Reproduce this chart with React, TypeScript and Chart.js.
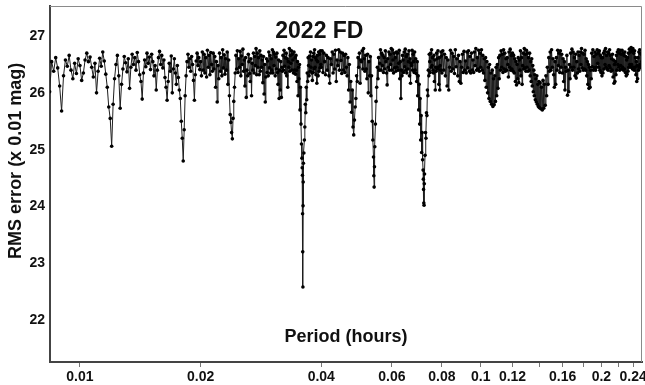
import React, { useEffect, useRef } from "react";
import { Chart, registerables } from "chart.js";
Chart.register(...registerables);

const chartTitle = "2022 FD";
const xAxisTitle = "Period (hours)";
const yAxisTitle = "RMS error (x 0.01 mag)";
const xTickValues = [0.01, 0.02, 0.04, 0.06, 0.08, 0.1, 0.12, 0.14, 0.16, 0.18, 0.2, 0.22, 0.24];
const xTickLabels = ["0.01", "0.02", "0.04", "0.06", "0.08", "0.1", "0.12", "", "0.16", "", "0.2", "", "0.24"];
const yTickValues = [22, 23, 24, 25, 26, 27];
const xMin = 0.00842;
const xMax = 0.2525;
const yMin = 21.26;
const yMax = 27.53;

// [period (hours), RMS error (x 0.01 mag)]
const segmentA: [number, number][] = [
  [0.0084, 26.02], [0.0085, 26.55], [0.0086, 26.38], [0.0087, 26.62], [0.0088, 26.44], [0.0089, 26.12],
  [0.0090, 25.68], [0.0091, 26.30], [0.0092, 26.58], [0.0093, 26.47], [0.0094, 26.66], [0.0095, 26.40],
  [0.0096, 26.25], [0.0097, 26.52], [0.0098, 26.34], [0.0099, 26.60], [0.0100, 26.48], [0.0101, 26.22],
  [0.0102, 26.35], [0.0103, 26.58], [0.0104, 26.70], [0.0105, 26.55], [0.0106, 26.63], [0.0107, 26.45],
  [0.0108, 26.28], [0.0109, 26.52], [0.0110, 26.00], [0.0111, 26.38], [0.0112, 26.61], [0.0113, 26.47],
  [0.0114, 26.72], [0.0115, 26.56], [0.0116, 26.33], [0.0117, 26.10], [0.0118, 25.75], [0.0119, 25.55],
  [0.0120, 25.06], [0.0121, 25.80], [0.0122, 26.25], [0.0123, 26.50], [0.0124, 26.66], [0.0125, 26.30],
  [0.0126, 25.73], [0.0127, 26.15], [0.0128, 26.42], [0.0129, 26.64], [0.0130, 26.53], [0.0131, 26.37],
  [0.0132, 26.60], [0.0133, 26.08], [0.0134, 26.45], [0.0135, 26.68], [0.0136, 26.50], [0.0137, 26.62],
  [0.0138, 26.40], [0.0139, 26.71], [0.0140, 26.55], [0.0141, 26.32], [0.0142, 26.20], [0.0143, 25.89],
  [0.0144, 26.35], [0.0145, 26.58], [0.0146, 26.46], [0.0147, 26.70], [0.0148, 26.52], [0.0149, 26.63],
  [0.0150, 26.41], [0.0151, 26.68], [0.0152, 26.55], [0.0153, 26.30], [0.0154, 26.48], [0.0155, 26.05],
  [0.0156, 26.40], [0.0157, 26.62], [0.0158, 26.73], [0.0159, 26.50], [0.0160, 26.66], [0.0161, 26.44],
  [0.0162, 26.58], [0.0163, 26.27], [0.0164, 26.10], [0.0165, 25.87], [0.0166, 26.20], [0.0167, 26.52],
  [0.0168, 26.38], [0.0169, 26.65], [0.0170, 26.00], [0.0171, 26.42], [0.0172, 26.60], [0.0173, 26.35],
  [0.0174, 26.15], [0.0175, 26.48], [0.0176, 26.27], [0.0177, 26.05], [0.0178, 25.90], [0.0179, 25.50],
  [0.0180, 25.20], [0.0181, 24.80], [0.0182, 25.35], [0.0183, 25.95], [0.0184, 26.30], [0.0185, 26.55],
  [0.0186, 26.68], [0.0187, 26.45], [0.0188, 26.60], [0.0189, 26.38], [0.0190, 26.64], [0.0191, 26.50],
  [0.0192, 26.22], [0.0193, 25.87], [0.0194, 26.32], [0.0195, 26.56], [0.0196, 26.70], [0.0197, 26.48],
  [0.0198, 26.62], [0.0199, 26.41],
];

const segmentB: [number, number][] = [
  [0.0200, 26.55], [0.0201, 26.30], [0.0202, 26.72], [0.0203, 26.40], [0.0204, 26.68], [0.0205, 26.35], [0.0206, 26.62], [0.0207, 26.28], [0.0208, 26.75], [0.0209, 26.45],
  [0.0210, 26.66], [0.0211, 26.32], [0.0212, 26.71], [0.0213, 26.50], [0.0214, 26.38], [0.0215, 26.70], [0.0216, 26.42], [0.0217, 26.64], [0.0218, 26.10], [0.0219, 26.55],
  [0.0220, 25.84], [0.0221, 26.48], [0.0222, 26.25], [0.0223, 26.70], [0.0224, 26.38], [0.0225, 26.62], [0.0226, 26.30], [0.0227, 26.76], [0.0228, 26.44], [0.0229, 26.67],
  [0.0230, 26.33], [0.0231, 26.60], [0.0232, 26.40], [0.0233, 26.72], [0.0234, 26.15], [0.0235, 26.58], [0.0236, 25.95], [0.0237, 25.62], [0.0238, 25.48], [0.0239, 25.30],
  [0.0240, 25.19], [0.0241, 25.55], [0.0242, 25.85], [0.0243, 26.10], [0.0244, 26.35], [0.0245, 26.66], [0.0246, 26.42], [0.0247, 26.74], [0.0248, 26.36], [0.0249, 26.60],
  [0.0250, 26.45], [0.0251, 26.73], [0.0252, 26.30], [0.0253, 26.65], [0.0254, 26.50], [0.0255, 26.77], [0.0256, 26.38], [0.0257, 26.58], [0.0258, 26.12], [0.0259, 26.62],
  [0.0260, 25.92], [0.0261, 26.40], [0.0262, 26.30], [0.0263, 26.68], [0.0264, 26.55], [0.0265, 26.34], [0.0266, 26.20], [0.0267, 26.60], [0.0268, 25.95], [0.0269, 26.52],
  [0.0270, 26.40], [0.0271, 26.70], [0.0272, 26.35], [0.0273, 26.64], [0.0274, 26.48], [0.0275, 26.78], [0.0276, 26.32], [0.0277, 26.70], [0.0278, 26.45], [0.0279, 26.62],
  [0.0280, 26.32], [0.0281, 26.74], [0.0282, 26.38], [0.0283, 26.66], [0.0284, 26.45], [0.0285, 26.58], [0.0286, 26.18], [0.0287, 26.64], [0.0288, 25.98], [0.0289, 26.50],
  [0.0290, 25.84], [0.0291, 26.28], [0.0292, 26.60], [0.0293, 26.36], [0.0294, 26.56], [0.0295, 26.30], [0.0296, 26.72], [0.0297, 26.44], [0.0298, 26.66], [0.0299, 26.35],
  [0.0300, 26.60], [0.0301, 26.40], [0.0302, 26.76], [0.0303, 26.35], [0.0304, 26.72], [0.0305, 26.48], [0.0306, 26.68], [0.0307, 26.30], [0.0308, 26.63], [0.0309, 26.42],
  [0.0310, 26.70], [0.0311, 26.36], [0.0312, 26.15], [0.0313, 26.58], [0.0314, 25.90], [0.0315, 26.40], [0.0316, 26.05], [0.0317, 26.55], [0.0318, 25.92], [0.0319, 26.45],
  [0.0320, 26.38], [0.0321, 26.66], [0.0322, 26.40], [0.0323, 26.75], [0.0324, 26.47], [0.0325, 26.62], [0.0326, 26.35], [0.0327, 26.70], [0.0328, 26.30], [0.0329, 26.60],
  [0.0330, 26.10], [0.0331, 26.55], [0.0332, 26.45], [0.0333, 26.78], [0.0334, 26.38], [0.0335, 26.66], [0.0336, 26.52], [0.0337, 26.74], [0.0338, 26.40], [0.0339, 26.68],
  [0.0340, 26.58], [0.0341, 26.35], [0.0342, 26.72], [0.0343, 26.40], [0.0344, 26.62], [0.0345, 26.33], [0.0346, 26.66], [0.0347, 26.40], [0.0348, 26.20], [0.0349, 26.55],
  [0.0350, 25.95], [0.0351, 26.45], [0.0352, 26.25], [0.0353, 26.50], [0.0354, 25.70], [0.0355, 26.10], [0.0356, 25.45], [0.0357, 25.10], [0.0358, 24.85], [0.03585, 24.68],
  [0.0359, 24.55], [0.03593, 23.87], [0.03596, 23.20], [0.0360, 22.58], [0.03603, 24.01], [0.03606, 24.43],
  [0.0361, 24.76], [0.0362, 24.94], [0.0363, 25.17], [0.0364, 25.40], [0.0365, 25.80], [0.0366, 25.65], [0.0367, 26.10], [0.0368, 25.88], [0.0369, 26.35],
  [0.0370, 26.20], [0.0371, 26.62], [0.0372, 26.48], [0.0373, 26.30], [0.0374, 26.65], [0.0375, 26.38], [0.0376, 26.72], [0.0377, 26.45], [0.0378, 26.58], [0.0379, 26.35],
  [0.0380, 26.22], [0.0381, 26.64], [0.0382, 26.36], [0.0383, 26.70], [0.0384, 26.42], [0.0385, 26.76], [0.0386, 26.45], [0.0387, 26.62], [0.0388, 26.32], [0.0389, 26.58],
  [0.0390, 26.17], [0.0391, 26.66], [0.0392, 26.55], [0.0393, 26.30], [0.0394, 26.72], [0.0395, 26.38], [0.0396, 26.68], [0.0397, 26.44], [0.0398, 26.74], [0.0399, 26.50],
];

const segmentC: [number, number][] = [
  [0.0400, 26.45], [0.0402, 26.74], [0.0404, 26.36], [0.0406, 26.70], [0.0408, 26.55], [0.0410, 26.32], [0.0412, 26.66], [0.0414, 26.40], [0.0416, 26.62], [0.0418, 26.30],
  [0.0420, 26.17], [0.0422, 26.60], [0.0424, 26.50], [0.0426, 26.72], [0.0428, 26.35], [0.0430, 26.68], [0.0432, 26.42], [0.0434, 26.75], [0.0436, 26.20], [0.0438, 26.58],
  [0.0440, 26.48], [0.0442, 26.76], [0.0444, 26.40], [0.0446, 26.72], [0.0448, 26.57], [0.0450, 26.34], [0.0452, 26.70], [0.0454, 26.40], [0.0456, 26.66], [0.0458, 26.36],
  [0.0460, 26.68], [0.0462, 26.45], [0.0464, 26.30], [0.0466, 26.62], [0.0468, 26.05], [0.0470, 26.50], [0.0472, 25.84], [0.0474, 26.20], [0.0476, 25.66], [0.0478, 26.05],
  [0.0480, 25.40], [0.0482, 25.26], [0.0484, 25.52], [0.0486, 25.75], [0.0488, 25.90], [0.0490, 26.30], [0.0492, 26.20], [0.0494, 26.62], [0.0496, 26.45], [0.0498, 26.70],
  [0.0500, 26.17], [0.0502, 26.58], [0.0504, 26.55], [0.0506, 26.74], [0.0508, 26.42], [0.0510, 26.78], [0.0512, 26.60], [0.0514, 26.38], [0.0516, 26.66], [0.0518, 26.42],
  [0.0520, 26.25], [0.0522, 26.68], [0.0524, 26.00], [0.0526, 26.55], [0.0528, 26.30], [0.0530, 26.64], [0.0532, 25.95], [0.0534, 26.30], [0.0536, 25.50], [0.0538, 25.17],
  [0.0540, 24.87], [0.0541, 24.54], [0.0542, 24.34], [0.0543, 24.70], [0.0544, 25.05], [0.0546, 25.45], [0.0548, 25.85], [0.0550, 26.10], [0.0552, 26.45], [0.0554, 26.25],
  [0.0556, 26.62], [0.0558, 26.40],
  [0.0560, 26.52], [0.0562, 26.76], [0.0564, 26.40], [0.0566, 26.70], [0.0568, 26.48], [0.0570, 26.66], [0.0572, 26.36], [0.0574, 26.62], [0.0576, 26.42], [0.0578, 26.74],
  [0.0580, 26.55], [0.0582, 26.35], [0.0584, 26.14], [0.0586, 26.60], [0.0588, 26.45], [0.0590, 26.72], [0.0592, 26.40], [0.0594, 26.68], [0.0596, 26.50], [0.0598, 26.78],
  [0.0600, 26.40], [0.0602, 26.76], [0.0604, 26.58], [0.0606, 26.35], [0.0608, 26.70], [0.0610, 26.44], [0.0612, 26.62], [0.0614, 26.38], [0.0616, 26.72], [0.0618, 26.45],
  [0.0620, 26.70], [0.0622, 26.40], [0.0624, 26.52], [0.0626, 26.75], [0.0628, 26.25], [0.0630, 26.55], [0.0632, 25.90], [0.0634, 26.40], [0.0636, 26.30], [0.0638, 26.66],
  [0.0640, 26.58], [0.0642, 26.36], [0.0644, 26.72], [0.0646, 26.46], [0.0648, 26.77], [0.0650, 26.40], [0.0652, 26.64], [0.0654, 26.35], [0.0656, 26.68], [0.0658, 26.42],
  [0.0660, 26.55], [0.0662, 26.74], [0.0664, 26.30], [0.0666, 26.60], [0.0668, 26.17], [0.0670, 26.52], [0.0672, 26.48], [0.0674, 26.75], [0.0676, 26.40], [0.0678, 26.68],
  [0.0680, 26.55], [0.0682, 26.36], [0.0684, 26.72], [0.0686, 26.40], [0.0688, 26.60], [0.0690, 26.34], [0.0692, 26.20], [0.0694, 26.55], [0.0696, 25.95], [0.0698, 26.30],
  [0.0700, 25.70], [0.0702, 26.15], [0.0704, 25.45], [0.0706, 25.90], [0.0708, 25.17], [0.0710, 25.60], [0.0712, 24.95], [0.0714, 25.30], [0.0716, 24.82], [0.0718, 24.64],
  [0.0719, 24.48], [0.0720, 24.30], [0.0721, 24.06], [0.0722, 24.02], [0.0723, 24.40], [0.0724, 24.57], [0.0726, 24.90], [0.0728, 25.30], [0.0730, 25.20], [0.0732, 25.65],
  [0.0734, 25.60], [0.0736, 26.05], [0.0738, 25.95], [0.0740, 26.40],
  [0.0742, 26.30], [0.0744, 26.68], [0.0746, 26.55], [0.0748, 26.36], [0.0750, 26.70], [0.0752, 26.45], [0.0754, 26.76], [0.0756, 26.48], [0.0758, 26.62],
  [0.0760, 26.40], [0.0762, 26.35], [0.0764, 26.66], [0.0766, 26.20], [0.0768, 26.58], [0.0770, 26.05], [0.0772, 26.45], [0.0774, 26.38], [0.0776, 26.70], [0.0778, 26.60],
  [0.0780, 26.42], [0.0782, 26.74], [0.0784, 26.45], [0.0786, 26.15], [0.0788, 26.62], [0.0790, 26.05], [0.0792, 26.48], [0.0794, 26.40], [0.0796, 26.72], [0.0798, 26.65],
];

const segmentD: [number, number][] = [
  [0.0800, 26.35], [0.0804, 26.74], [0.0808, 26.40], [0.0812, 26.68], [0.0816, 26.30], [0.0820, 26.62], [0.0824, 26.12], [0.0828, 26.58], [0.0832, 26.05], [0.0836, 26.45],
  [0.0840, 26.75], [0.0844, 26.38], [0.0848, 26.70], [0.0852, 26.42], [0.0856, 26.64], [0.0860, 26.34], [0.0864, 26.76], [0.0868, 26.46], [0.0872, 26.60], [0.0876, 26.30],
  [0.0880, 26.66], [0.0884, 26.20], [0.0888, 26.55], [0.0892, 26.17], [0.0896, 26.45], [0.0900, 26.68], [0.0904, 26.36], [0.0908, 26.73], [0.0912, 26.40], [0.0916, 26.56],
  [0.0920, 26.35], [0.0924, 26.72], [0.0928, 26.44], [0.0932, 26.74], [0.0936, 26.38], [0.0940, 26.64], [0.0944, 26.35], [0.0948, 26.70], [0.0952, 26.40], [0.0956, 26.58],
  [0.0960, 26.36], [0.0964, 26.72], [0.0968, 26.48], [0.0972, 26.78], [0.0976, 26.40], [0.0980, 26.62], [0.0984, 26.42], [0.0988, 26.75], [0.0992, 26.38], [0.0996, 26.70],
  [0.1000, 26.45], [0.1004, 26.76], [0.1008, 26.40], [0.1012, 26.66], [0.1016, 26.35], [0.1020, 26.60], [0.1024, 26.22], [0.1028, 26.62], [0.1032, 26.10], [0.1036, 26.55],
  [0.1040, 26.00], [0.1044, 26.45], [0.1048, 25.90], [0.1052, 26.50], [0.1056, 25.85], [0.1060, 26.35], [0.1064, 25.80], [0.1068, 26.40], [0.1072, 25.76], [0.1076, 26.25],
  [0.1080, 25.79], [0.1084, 26.30], [0.1088, 25.85], [0.1092, 26.45], [0.1096, 25.95], [0.1100, 26.50], [0.1104, 26.08], [0.1108, 26.62], [0.1112, 26.25], [0.1116, 26.66],
  [0.1120, 26.40], [0.1124, 26.74], [0.1128, 26.45], [0.1132, 26.68], [0.1136, 26.36], [0.1140, 26.76], [0.1144, 26.42], [0.1148, 26.70], [0.1152, 26.38], [0.1156, 26.60],
  [0.1160, 26.40], [0.1164, 26.62], [0.1168, 26.50], [0.1172, 26.28], [0.1176, 26.72], [0.1180, 26.45], [0.1184, 26.77], [0.1188, 26.40], [0.1192, 26.66], [0.1196, 26.42],
  [0.1200, 26.70], [0.1204, 26.38], [0.1208, 26.66], [0.1212, 26.35], [0.1216, 26.60], [0.1220, 26.20], [0.1224, 26.55], [0.1228, 26.14], [0.1232, 26.50], [0.1236, 26.25],
  [0.1240, 26.62], [0.1244, 26.18], [0.1248, 26.58], [0.1252, 26.40], [0.1256, 26.74], [0.1260, 26.30], [0.1264, 26.62], [0.1268, 26.15], [0.1272, 26.48], [0.1276, 26.70],
  [0.1280, 26.42], [0.1284, 26.78], [0.1288, 26.44], [0.1292, 26.68], [0.1296, 26.38], [0.1300, 26.75], [0.1304, 26.45], [0.1308, 26.70], [0.1312, 26.38], [0.1316, 26.62],
  [0.1320, 26.40], [0.1324, 26.70], [0.1328, 26.30], [0.1332, 26.55], [0.1336, 26.20], [0.1340, 26.60], [0.1344, 26.12], [0.1348, 26.48], [0.1352, 26.02], [0.1356, 26.40],
  [0.1360, 25.95], [0.1364, 26.32], [0.1368, 25.88], [0.1372, 26.25], [0.1376, 25.84], [0.1380, 26.30], [0.1384, 25.80], [0.1388, 26.15], [0.1392, 25.76], [0.1396, 26.20],
  [0.1400, 25.74],
];

const segmentE: [number, number][] = [
  [0.1406, 26.18], [0.1412, 25.72], [0.1418, 26.10], [0.1424, 25.70], [0.1430, 26.22], [0.1436, 25.73], [0.1442, 26.15], [0.1448, 25.78], [0.1454, 26.30], [0.1460, 25.95],
  [0.1466, 26.45], [0.1472, 26.15], [0.1478, 26.62], [0.1484, 26.38], [0.1490, 26.72], [0.1496, 26.40], [0.1502, 26.76], [0.1508, 26.45], [0.1514, 26.60], [0.1520, 26.32],
  [0.1526, 26.10], [0.1532, 26.55], [0.1538, 26.15], [0.1544, 26.62], [0.1550, 26.40], [0.1556, 26.75], [0.1562, 26.48], [0.1568, 26.70], [0.1574, 26.36], [0.1580, 26.74],
  [0.1586, 26.45], [0.1592, 26.68], [0.1598, 26.35], [0.1604, 26.60], [0.1610, 26.20], [0.1616, 26.55], [0.1622, 26.05], [0.1628, 26.45], [0.1634, 26.38], [0.1640, 26.66],
  [0.1646, 25.96], [0.1652, 26.40], [0.1658, 26.02], [0.1664, 26.50], [0.1670, 26.25], [0.1676, 26.70], [0.1682, 26.45], [0.1688, 26.77], [0.1694, 26.40], [0.1700, 26.72],
  [0.1706, 26.45], [0.1712, 26.62], [0.1718, 26.30], [0.1724, 26.68], [0.1730, 26.26], [0.1736, 26.55], [0.1742, 26.35], [0.1748, 26.72], [0.1754, 26.42], [0.1760, 26.66],
  [0.1766, 26.38], [0.1772, 26.72], [0.1778, 26.50], [0.1784, 26.78], [0.1790, 26.44], [0.1796, 26.70], [0.1802, 26.40], [0.1808, 26.68], [0.1814, 26.42], [0.1820, 26.75],
  [0.1826, 26.40], [0.1832, 26.60], [0.1838, 26.30], [0.1844, 26.55], [0.1850, 26.15], [0.1856, 26.50], [0.1862, 26.08], [0.1868, 26.45], [0.1874, 26.10], [0.1880, 26.40],
  [0.1886, 26.25], [0.1892, 26.70], [0.1898, 26.46], [0.1904, 26.76], [0.1910, 26.40], [0.1916, 26.64], [0.1922, 26.44], [0.1928, 26.72], [0.1934, 26.40], [0.1940, 26.68],
  [0.1946, 26.45], [0.1952, 26.76], [0.1958, 26.52], [0.1964, 26.70], [0.1970, 26.45], [0.1976, 26.74], [0.1982, 26.40], [0.1988, 26.66], [0.1994, 26.36], [0.2000, 26.62],
  [0.2006, 26.30], [0.2012, 26.62], [0.2018, 26.35], [0.2024, 26.70], [0.2030, 26.42], [0.2036, 26.74], [0.2042, 26.50], [0.2048, 26.78], [0.2054, 26.45], [0.2060, 26.66],
  [0.2066, 26.42], [0.2072, 26.72], [0.2078, 26.40], [0.2084, 26.70], [0.2090, 26.48], [0.2096, 26.76], [0.2102, 26.44], [0.2108, 26.66], [0.2114, 26.38], [0.2120, 26.60],
  [0.2126, 26.40], [0.2132, 26.68], [0.2138, 26.28], [0.2144, 26.58], [0.2150, 26.17], [0.2156, 26.50], [0.2162, 26.20], [0.2168, 26.55], [0.2174, 26.32], [0.2180, 26.66],
  [0.2186, 26.40], [0.2192, 26.72], [0.2198, 26.50], [0.2204, 26.76], [0.2210, 26.45], [0.2216, 26.70], [0.2222, 26.40], [0.2228, 26.75], [0.2234, 26.48], [0.2240, 26.68],
  [0.2246, 26.42], [0.2252, 26.75], [0.2258, 26.45], [0.2264, 26.70], [0.2270, 26.40], [0.2276, 26.66], [0.2282, 26.42], [0.2288, 26.72], [0.2294, 26.36], [0.2300, 26.64],
  [0.2306, 26.30], [0.2312, 26.58], [0.2318, 26.33], [0.2324, 26.62], [0.2330, 26.38], [0.2336, 26.70], [0.2342, 26.45], [0.2348, 26.77], [0.2354, 26.50], [0.2360, 26.72],
  [0.2366, 26.45], [0.2372, 26.80], [0.2378, 26.50], [0.2384, 26.74], [0.2390, 26.42], [0.2396, 26.78], [0.2402, 26.45], [0.2408, 26.70], [0.2414, 26.40], [0.2420, 26.74],
  [0.2426, 26.45], [0.2432, 26.62], [0.2438, 26.32], [0.2444, 26.55], [0.2450, 26.20], [0.2456, 26.48], [0.2462, 26.25], [0.2468, 26.62], [0.2474, 26.40], [0.2480, 26.72],
  [0.2486, 26.45], [0.2492, 26.76], [0.2498, 26.50], [0.2504, 26.70], [0.2510, 26.44], [0.2516, 26.68], [0.2522, 26.55],
];

const FONT = "'Liberation Sans', Arial, Helvetica, sans-serif";

const overlayPlugin = {
  id: "overlayText",
  afterDraw(chart: any) {
    const { ctx, chartArea } = chart;
    const { left, right, top, bottom } = chartArea;
    ctx.save();
    ctx.strokeStyle = "#8a8a8a";
    ctx.lineWidth = 1;
    ctx.beginPath();
    ctx.moveTo(left, top + 0.5);
    ctx.lineTo(right - 0.5, top + 0.5);
    ctx.lineTo(right - 0.5, bottom);
    ctx.stroke();
    ctx.fillStyle = "#111";
    ctx.textAlign = "center";
    ctx.textBaseline = "middle";
    ctx.font = `bold 23px ${FONT}`;
    ctx.fillText(chartTitle, left + (right - left) * 0.455, top + 26);
    ctx.font = `bold 18px ${FONT}`;
    ctx.fillText(xAxisTitle, (left + right) / 2, bottom - 25);
    ctx.translate(16, top + (bottom - top) * 0.435);
    ctx.rotate(-Math.PI / 2);
    ctx.fillText(yAxisTitle, 0, 0);
    ctx.restore();
  },
};

export default function App() {
  const canvasRef = useRef<HTMLCanvasElement | null>(null);

  useEffect(() => {
    if (!canvasRef.current) return;
    const points = [...segmentA, ...segmentB, ...segmentC, ...segmentD, ...segmentE].map(([x, y]) => ({ x, y }));
    const chart = new Chart(canvasRef.current, {
      type: "line",
      data: {
        datasets: [
          {
            data: points,
            borderColor: "#1e1e1e",
            borderWidth: 1,
            pointRadius: 1.8,
            pointBackgroundColor: "#000",
            pointBorderWidth: 0,
            pointBorderColor: "#000",
            pointHoverRadius: 0,
            tension: 0,
            fill: false,
          },
        ],
      },
      options: {
        animation: false,
        responsive: false,
        maintainAspectRatio: false,
        layout: { padding: { top: 6, right: 3, left: 0, bottom: 0 } },
        plugins: { legend: { display: false }, tooltip: { enabled: false }, title: { display: false } },
        events: [],
        scales: {
          x: {
            type: "logarithmic",
            min: xMin,
            max: xMax,
            afterBuildTicks: (s: any) => {
              s.ticks = xTickValues.map((v) => ({ value: v }));
            },
            afterFit: (s: any) => {
              s.height = 23;
              s.paddingLeft = 0;
              s.paddingRight = 0;
            },
            ticks: {
              autoSkip: false,
              maxRotation: 0,
              padding: 2,
              color: "#111",
              font: { family: FONT, size: 14, weight: "bold" },
              callback: (v: any) => {
                const i = xTickValues.findIndex((t) => Math.abs(t - Number(v)) < 1e-9);
                return i >= 0 ? xTickLabels[i] : "";
              },
            },
            grid: { display: true, drawOnChartArea: false, drawTicks: true, tickLength: 5, color: "#777", lineWidth: 1 },
            border: { display: true, color: "#444", width: 2 },
          },
          y: {
            type: "linear",
            min: yMin,
            max: yMax,
            afterBuildTicks: (s: any) => {
              s.ticks = yTickValues.map((v) => ({ value: v }));
            },
            afterFit: (s: any) => {
              s.width = 50;
              s.paddingTop = 0;
              s.paddingBottom = 0;
            },
            ticks: {
              padding: 5,
              color: "#111",
              font: { family: FONT, size: 14, weight: "bold" },
              callback: (v: any) => String(v),
            },
            grid: { display: false, drawTicks: false },
            border: { display: true, color: "#444", width: 2 },
          },
        },
      },
      plugins: [overlayPlugin],
    });
    return () => chart.destroy();
  }, []);

  return (
    <div style={{ position: "fixed", left: 0, top: 0, width: 645, height: 385, background: "#fff" }}>
      <canvas ref={canvasRef} width={645} height={385} style={{ display: "block" }} />
    </div>
  );
}
